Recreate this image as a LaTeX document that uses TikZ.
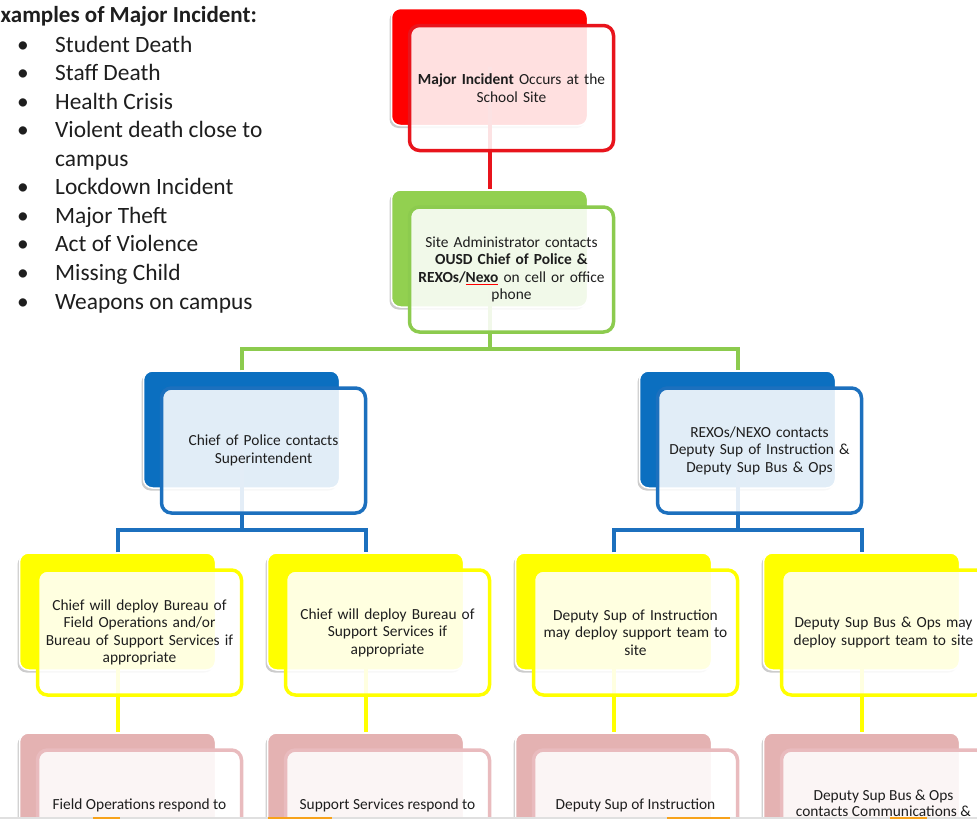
\documentclass[tikz,border=0pt]{standalone}
\usepackage{fontspec}
\setmainfont{Carlito}
\usetikzlibrary{shadows}
\definecolor{txt}{HTML}{1E1E1E}
\definecolor{cRed}{HTML}{FF0000}
\definecolor{cRedL}{HTML}{E8141C}
\definecolor{cGreen}{HTML}{92D050}
\definecolor{cGreenL}{HTML}{8CCB4E}
\definecolor{cBlue}{HTML}{0B6FC0}
\definecolor{cBlueL}{HTML}{1C70BE}
\definecolor{cYellow}{HTML}{FFFF00}
\definecolor{cPink}{HTML}{E4B2B2}
\definecolor{cPinkL}{HTML}{E9BBBE}
\definecolor{cOrange}{HTML}{F7A21B}
\tikzset{
  backbox/.style={rectangle, rounded corners=9pt, draw=white, line width=1.5pt,
    minimum width=196pt, minimum height=117pt, inner sep=0pt,
    drop shadow={shadow xshift=-2pt, shadow yshift=-2.5pt, fill=black, opacity=0.2}},
  frontbox/.style={rectangle, rounded corners=10pt, line width=3.5pt,
    minimum width=204pt, minimum height=125pt, inner sep=0pt,
    fill=white, fill opacity=0.88, text opacity=1, text=txt,
    align=center, text width=198pt, font=\fontsize{15.4}{17.5}\selectfont},
  conn/.style={line width=4pt},
  listitem/.style={anchor=base west, inner sep=0pt, text=txt, font=\fontsize{23.4}{28}\selectfont},
  pinktext/.style={anchor=base, inner sep=0pt, text=txt, font=\fontsize{15.4}{17.5}\selectfont}
}
\newcommand{\bul}{\makebox[38pt][l]{\textbullet}}
\begin{document}
\begin{tikzpicture}[x=1pt,y=-1pt]
\useasboundingbox (0,0) rectangle (977,819);
\clip (0,0) rectangle (977,819);
\fill[white] (0,0) rectangle (977,819);

% ---------- list ----------
\node[listitem, font=\fontsize{23}{28}\selectfont\bfseries] (title) at (0.5,22) {xamples of Major Incident:};
\node[listitem] (l1) at (17,52) {\bul Student Death};
\node[listitem] (l2) at (17,80.5) {\bul Staff Death};
\node[listitem] (l3) at (17,109) {\bul Health Crisis};
\node[listitem] (l4) at (17,137.5) {\bul Violent death close to};
\node[listitem] (l4b) at (55,166) {campus};
\node[listitem] (l5) at (17,194.5) {\bul Lockdown Incident};
\node[listitem] (l6) at (17,223) {\bul Major Theft};
\node[listitem] (l7) at (17,251.5) {\bul Act of Violence};
\node[listitem] (l8) at (17,280) {\bul Missing Child};
\node[listitem] (l9) at (17,309) {\bul Weapons on campus};

% ---------- connector anchors ----------
\coordinate (gj) at (489.5,349);
\coordinate (blj) at (241.5,530);
\coordinate (brj) at (737.5,530);

% ---------- back boxes ----------
\node[backbox, fill=cRed] (rB) at (489.5,67) {};
\node[backbox, fill=cGreen] (gB) at (489.5,248.5) {};
\node[backbox, fill=cBlue] (blB) at (241.5,429.5) {};
\node[backbox, fill=cBlue] (brB) at (737.5,429.5) {};
\node[backbox, fill=cYellow] (y1B) at (117.5,611.5) {};
\node[backbox, fill=cYellow] (y2B) at (365.5,611.5) {};
\node[backbox, fill=cYellow] (y3B) at (613.5,611.5) {};
\node[backbox, fill=cYellow] (y4B) at (861.5,611.5) {};
\node[backbox, fill=cPink] (p1B) at (117.5,791.5) {};
\node[backbox, fill=cPink] (p2B) at (365.5,791.5) {};
\node[backbox, fill=cPink] (p3B) at (613.5,791.5) {};
\node[backbox, fill=cPink] (p4B) at (861.5,791.5) {};

% ---------- connectors (behind front boxes) ----------
\draw[conn, cRedL] (rB.center) -- (gB.north);
\draw[conn, cGreenL] (gB.center) -- (gj);
\draw[conn, cGreenL] (blB.north) |- (gj) -| (brB.north);
\draw[conn, cBlueL] (blB.center) -- (blj);
\draw[conn, cBlueL] (y1B.north) |- (blj) -| (y2B.north);
\draw[conn, cBlueL] (brB.center) -- (brj);
\draw[conn, cBlueL] (y3B.north) |- (brj) -| (y4B.north);
\draw[conn, cYellow] (y1B.center) -- (p1B.north);
\draw[conn, cYellow] (y2B.center) -- (p2B.north);
\draw[conn, cYellow] (y3B.center) -- (p3B.north);
\draw[conn, cYellow] (y4B.center) -- (p4B.north);

% ---------- front boxes ----------
\node[frontbox, draw=cRedL] (rF) at (511.5,88) {\textbf{Major Incident} Occurs at the\\School Site};
\node[frontbox, draw=cGreenL] (gF) at (511.5,269.5) {Site Administrator contacts\\\textbf{OUSD Chief of Police \&}\\\textbf{REXOs/\textcolor{red}{\underline{\textcolor{txt}{Nexo}}}} on cell or office\\phone};
\node[frontbox, draw=cBlueL] (blF) at (263.5,450.5) {Chief of Police contacts\\Superintendent};
\node[frontbox, draw=cBlueL] (brF) at (759.5,450.5) {REXOs/NEXO contacts\\Deputy Sup of Instruction \&\\Deputy Sup Bus \& Ops};
\node[frontbox, draw=cYellow] (y1F) at (139.5,632.5) {Chief will deploy Bureau of\\Field Operations and/or\\Bureau of Support Services if\\appropriate};
\node[frontbox, draw=cYellow] (y2F) at (387.5,632.5) {Chief will deploy Bureau of\\Support Services if\\appropriate};
\node[frontbox, draw=cYellow] (y3F) at (635.5,632.5) {Deputy Sup of Instruction\\may deploy support team to\\site};
\node[frontbox, draw=cYellow] (y4F) at (883.5,632.5) {Deputy Sup Bus \& Ops may\\deploy support team to site};
\node[frontbox, draw=cPinkL] (p1F) at (139.5,812.5) {};
\node[frontbox, draw=cPinkL] (p2F) at (387.5,812.5) {};
\node[frontbox, draw=cPinkL] (p3F) at (635.5,812.5) {};
\node[frontbox, draw=cPinkL] (p4F) at (883.5,812.5) {};
\node[pinktext] (p1t) at (139.5,809) {Field Operations respond to};
\node[pinktext] (p2t) at (387.5,809) {Support Services respond to};
\node[pinktext] (p3t) at (635.5,809) {Deputy Sup of Instruction};
\node[pinktext] (p4t) at (883.5,800) {Deputy Sup Bus \& Ops};
\node[pinktext] (p4u) at (883.5,816) {contacts Communications \&};

% ---------- bottom strip ----------
\fill[black!12] (0,817) rectangle (977,819);
\fill[cOrange] (93,817) rectangle (120,819);
\fill[cOrange] (268,817) rectangle (332,819);
\fill[cOrange] (667,817) rectangle (730,819);
\fill[cOrange] (890,817) rectangle (927,819);
\end{tikzpicture}
\end{document}
